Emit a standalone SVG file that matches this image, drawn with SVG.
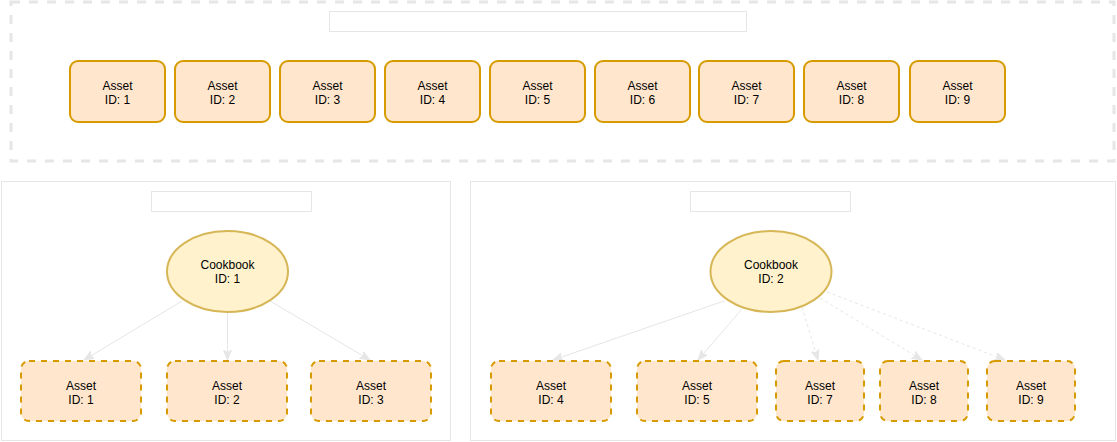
<svg xmlns="http://www.w3.org/2000/svg" width="1117" height="442" viewBox="0 0 1117 442">
<style>
.cont{fill:#ffffff;stroke:#e6e6e6;stroke-width:1}
.top{fill:#ffffff;stroke:#e6e6e6;stroke-width:3;stroke-dasharray:9 9}
.title{fill:#ffffff;stroke:#e6e6e6;stroke-width:1}
.asset{fill:#ffe6cc;stroke:#d79b00;stroke-width:2}
.assetd{fill:#ffe6cc;stroke:#d79b00;stroke-width:2;stroke-dasharray:6 6}
.cook{fill:#fff2cc;stroke:#d6b656;stroke-width:2}
.lbl{font-family:"Liberation Sans",Arial,sans-serif;font-size:12px;fill:#000000;text-anchor:middle}
.edge{fill:none;stroke:#e6e6e6;stroke-width:1;marker-end:url(#arr)}
.edged{fill:none;stroke:#e6e6e6;stroke-width:1;stroke-dasharray:3 3;marker-end:url(#arr)}
</style>
<defs>
<marker id="arr" markerUnits="userSpaceOnUse" markerWidth="12" markerHeight="10" refX="10" refY="4" orient="auto">
<path d="M0,0 L10,4 L0,8 L2.5,4 Z" fill="#e6e6e6" stroke="#e6e6e6" stroke-width="1"/>
</marker>
</defs>
<g id="containers">
<rect id="pool" class="top" x="11" y="2" width="1103" height="159"/>
<rect id="pool-title" class="title" x="329.5" y="11.5" width="417" height="20"/>
<rect id="group1" class="cont" x="1.5" y="181.5" width="449" height="259"/>
<rect id="group1-title" class="title" x="151.5" y="191.5" width="160" height="20"/>
<rect id="group2" class="cont" x="470.5" y="181.5" width="645" height="259"/>
<rect id="group2-title" class="title" x="690.5" y="191.5" width="160" height="20"/>
</g>
<g id="pool-assets">
<g id="a1"><rect class="asset" x="70" y="61" width="95" height="61" rx="8"/><text class="lbl" x="117.5" y="90">Asset</text><text class="lbl" x="117.5" y="104">ID: 1</text></g>
<g id="a2"><rect class="asset" x="175" y="61" width="95" height="61" rx="8"/><text class="lbl" x="222.5" y="90">Asset</text><text class="lbl" x="222.5" y="104">ID: 2</text></g>
<g id="a3"><rect class="asset" x="280" y="61" width="95" height="61" rx="8"/><text class="lbl" x="327.5" y="90">Asset</text><text class="lbl" x="327.5" y="104">ID: 3</text></g>
<g id="a4"><rect class="asset" x="385" y="61" width="95" height="61" rx="8"/><text class="lbl" x="432.5" y="90">Asset</text><text class="lbl" x="432.5" y="104">ID: 4</text></g>
<g id="a5"><rect class="asset" x="490" y="61" width="95" height="61" rx="8"/><text class="lbl" x="537.5" y="90">Asset</text><text class="lbl" x="537.5" y="104">ID: 5</text></g>
<g id="a6"><rect class="asset" x="595" y="61" width="95" height="61" rx="8"/><text class="lbl" x="642.5" y="90">Asset</text><text class="lbl" x="642.5" y="104">ID: 6</text></g>
<g id="a7"><rect class="asset" x="699" y="61" width="95" height="61" rx="8"/><text class="lbl" x="746.5" y="90">Asset</text><text class="lbl" x="746.5" y="104">ID: 7</text></g>
<g id="a8"><rect class="asset" x="804" y="61" width="95" height="61" rx="8"/><text class="lbl" x="851.5" y="90">Asset</text><text class="lbl" x="851.5" y="104">ID: 8</text></g>
<g id="a9"><rect class="asset" x="910" y="61" width="95" height="61" rx="8"/><text class="lbl" x="957.5" y="90">Asset</text><text class="lbl" x="957.5" y="104">ID: 9</text></g>
</g>
<g id="connectors">
<line class="edge" x1="182" y1="301" x2="84" y2="360"/>
<line class="edge" x1="227.5" y1="312" x2="227.5" y2="360"/>
<line class="edge" x1="270" y1="301" x2="370" y2="360"/>
<line class="edge" x1="724" y1="301" x2="553" y2="360"/>
<line class="edge" x1="742" y1="309" x2="698" y2="360"/>
<line class="edged" x1="802" y1="307" x2="818" y2="360"/>
<line class="edged" x1="820" y1="298" x2="922" y2="360"/>
<line class="edged" x1="827" y1="292" x2="1005" y2="360"/>
</g>
<g id="cookbook1"><ellipse class="cook" cx="227.5" cy="271.5" rx="60.5" ry="40.5"/><text class="lbl" x="227.5" y="269">Cookbook</text><text class="lbl" x="227.5" y="283">ID: 1</text></g>
<g id="cookbook2"><ellipse class="cook" cx="771" cy="271.5" rx="60.5" ry="40.5"/><text class="lbl" x="771" y="269">Cookbook</text><text class="lbl" x="771" y="283">ID: 2</text></g>
<g id="g1-assets">
<g id="g1a1"><rect class="assetd" x="21" y="361" width="120" height="60" rx="8"/><text class="lbl" x="81" y="389.5">Asset</text><text class="lbl" x="81" y="403.5">ID: 1</text></g>
<g id="g1a2"><rect class="assetd" x="167" y="361" width="120" height="60" rx="8"/><text class="lbl" x="227" y="389.5">Asset</text><text class="lbl" x="227" y="403.5">ID: 2</text></g>
<g id="g1a3"><rect class="assetd" x="311" y="361" width="120" height="60" rx="8"/><text class="lbl" x="371" y="389.5">Asset</text><text class="lbl" x="371" y="403.5">ID: 3</text></g>
</g>
<g id="g2-assets">
<g id="g2a4"><rect class="assetd" x="491" y="361" width="120" height="60" rx="8"/><text class="lbl" x="551" y="389.5">Asset</text><text class="lbl" x="551" y="403.5">ID: 4</text></g>
<g id="g2a5"><rect class="assetd" x="637" y="361" width="120" height="60" rx="8"/><text class="lbl" x="697" y="389.5">Asset</text><text class="lbl" x="697" y="403.5">ID: 5</text></g>
<g id="g2a7"><rect class="assetd" x="776" y="361" width="88" height="60" rx="8"/><text class="lbl" x="820" y="389.5">Asset</text><text class="lbl" x="820" y="403.5">ID: 7</text></g>
<g id="g2a8"><rect class="assetd" x="880" y="361" width="88" height="60" rx="8"/><text class="lbl" x="924" y="389.5">Asset</text><text class="lbl" x="924" y="403.5">ID: 8</text></g>
<g id="g2a9"><rect class="assetd" x="987" y="361" width="88" height="60" rx="8"/><text class="lbl" x="1031" y="389.5">Asset</text><text class="lbl" x="1031" y="403.5">ID: 9</text></g>
</g>
</svg>
